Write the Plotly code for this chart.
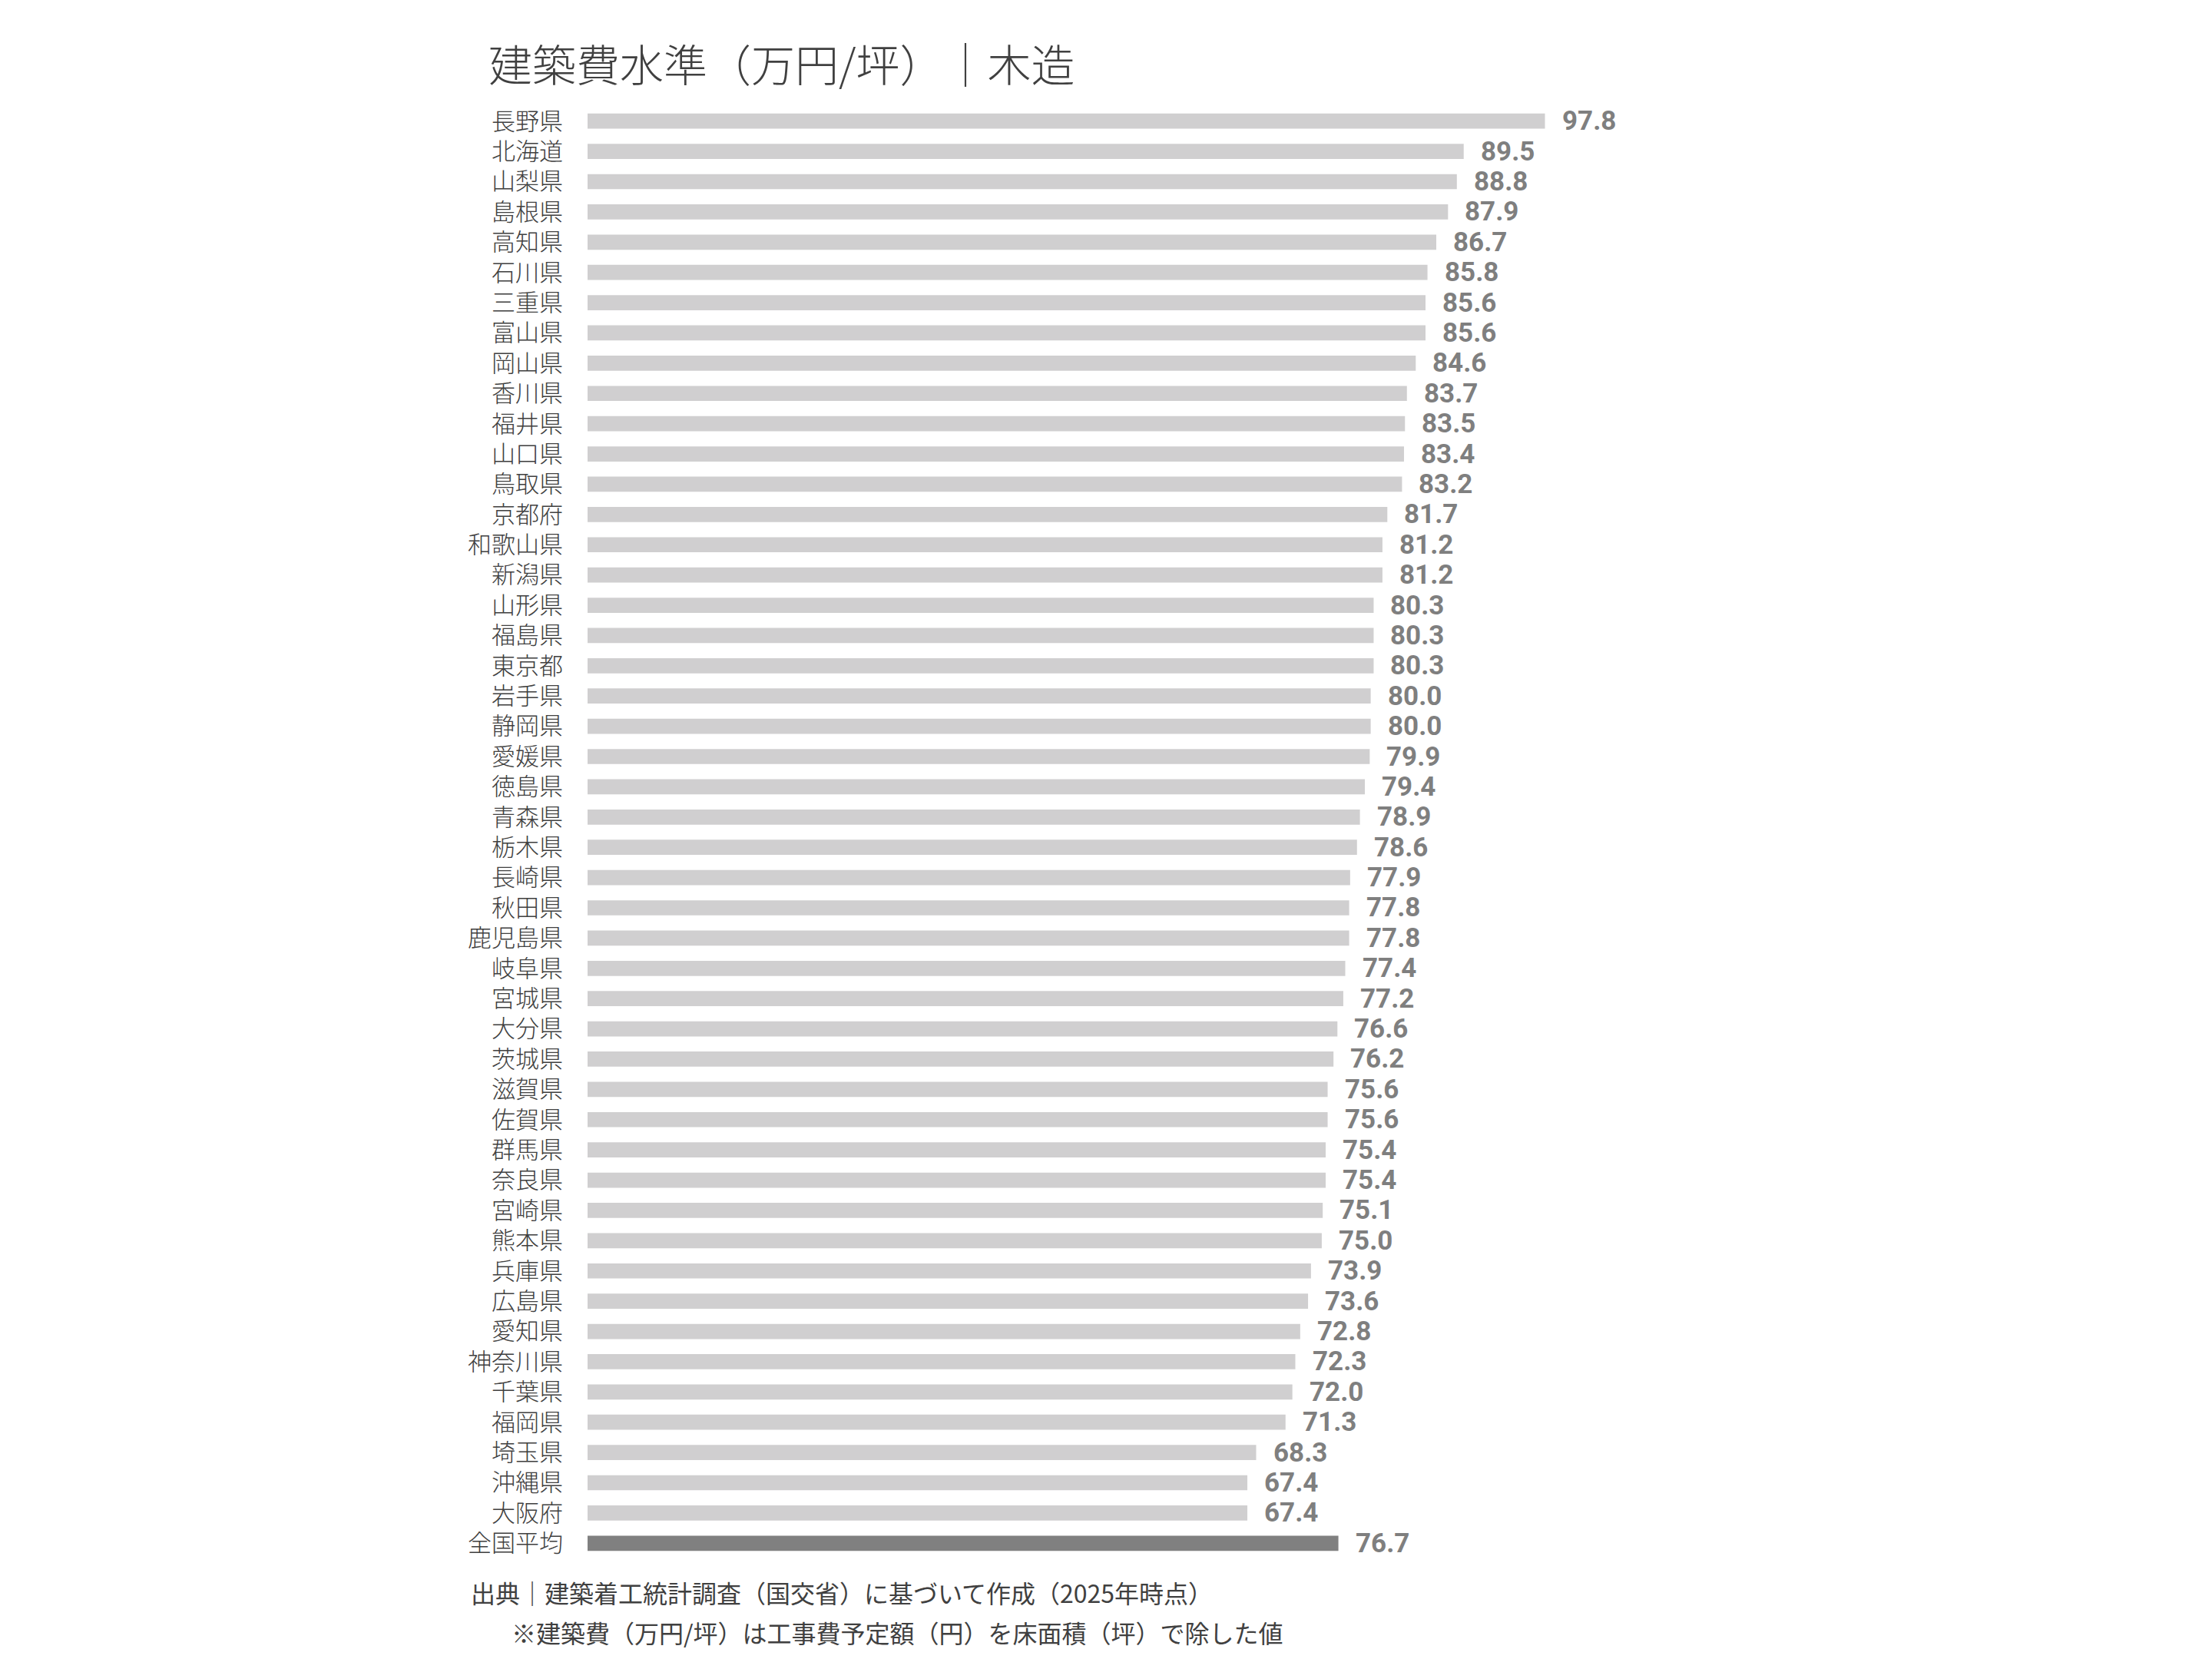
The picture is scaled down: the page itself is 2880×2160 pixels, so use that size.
import plotly.graph_objects as go

# 都道府県別 建築費水準（木造, 万円/坪）
prefectures = [
    "長野県", "北海道", "山梨県", "島根県", "高知県", "石川県", "三重県", "富山県",
    "岡山県", "香川県", "福井県", "山口県", "鳥取県", "京都府", "和歌山県", "新潟県",
    "山形県", "福島県", "東京都", "岩手県", "静岡県", "愛媛県", "徳島県", "青森県",
    "栃木県", "長崎県", "秋田県", "鹿児島県", "岐阜県", "宮城県", "大分県", "茨城県",
    "滋賀県", "佐賀県", "群馬県", "奈良県", "宮崎県", "熊本県", "兵庫県", "広島県",
    "愛知県", "神奈川県", "千葉県", "福岡県", "埼玉県", "沖縄県", "大阪府",
]
costs = [
    97.8, 89.5, 88.8, 87.9, 86.7, 85.8, 85.6, 85.6,
    84.6, 83.7, 83.5, 83.4, 83.2, 81.7, 81.2, 81.2,
    80.3, 80.3, 80.3, 80.0, 80.0, 79.9, 79.4, 78.9,
    78.6, 77.9, 77.8, 77.8, 77.4, 77.2, 76.6, 76.2,
    75.6, 75.6, 75.4, 75.4, 75.1, 75.0, 73.9, 73.6,
    72.8, 72.3, 72.0, 71.3, 68.3, 67.4, 67.4,
]
avg_label = "全国平均"
avg_cost = 76.7

title_text = "建築費水準（万円/坪）｜木造"
source_text = "出典｜建築着工統計調査（国交省）に基づいて作成（2025年時点）"
note_text = "※建築費（万円/坪）は工事費予定額（円）を床面積（坪）で除した値"

W, H = 2880, 2160
L, T, B = 757, 130, 139
X_MAX = 110
plot_w = X_MAX * 12.75          # ~12.75 px per 万円
R = W - L - plot_w
plot_h = H - T - B

JP_FONT = "Noto Sans CJK JP, Noto Sans, sans-serif"
NUM_FONT = "Roboto, Liberation Sans, sans-serif"

labels = prefectures + [avg_label]
values = costs + [avg_cost]
colors = ["#d0cfd0"] * len(prefectures) + ["#808080"]

fig = go.Figure(
    go.Bar(
        x=values,
        y=labels,
        orientation="h",
        marker=dict(color=colors, line=dict(width=0)),
        width=0.5,
        hoverinfo="x+y",
    )
)

# value labels at the bar ends
for lab, val in zip(labels, values):
    fig.add_annotation(
        x=val, y=lab, xref="x", yref="y",
        text=f"{val:.1f}",
        showarrow=False, xanchor="left", yanchor="middle",
        xshift=20,
        font=dict(family=NUM_FONT, size=35, color="#7f7f7f", weight="bold"),
    )


def paper_xy(px, py):
    # pixel position on the page -> paper coordinates
    return (px - L) / plot_w, (H - B - py) / plot_h


sx, sy = paper_xy(603, 2065)
fig.add_annotation(
    x=sx, y=sy, xref="paper", yref="paper", text=source_text, showarrow=False,
    xanchor="left", yanchor="middle",
    font=dict(family=JP_FONT, size=32, color="#404040"),
)
nx, ny = paper_xy(656, 2117)
fig.add_annotation(
    x=nx, y=ny, xref="paper", yref="paper", text=note_text, showarrow=False,
    xanchor="left", yanchor="middle",
    font=dict(family=JP_FONT, size=32, color="#404040"),
)

fig.update_layout(
    width=W,
    height=H,
    margin=dict(l=L, r=R, t=T, b=B),
    paper_bgcolor="white",
    plot_bgcolor="white",
    showlegend=False,
    title=dict(
        text=title_text,
        xref="container", yref="container",
        x=628 / W, y=1 - 78 / H,
        xanchor="left", yanchor="middle",
        font=dict(family=JP_FONT, size=57, color="#404040", weight=300),
    ),
    xaxis=dict(
        range=[0, X_MAX],
        visible=False,
        fixedrange=True,
    ),
    yaxis=dict(
        type="category",
        categoryorder="array",
        categoryarray=labels,
        range=[len(labels) - 0.5, -0.5],
        showgrid=False,
        zeroline=False,
        showline=False,
        ticks="",
        ticklabelstandoff=31,
        tickfont=dict(family=JP_FONT, size=31, color="#404040", weight=300),
    ),
)

fig.write_html("out.html")
